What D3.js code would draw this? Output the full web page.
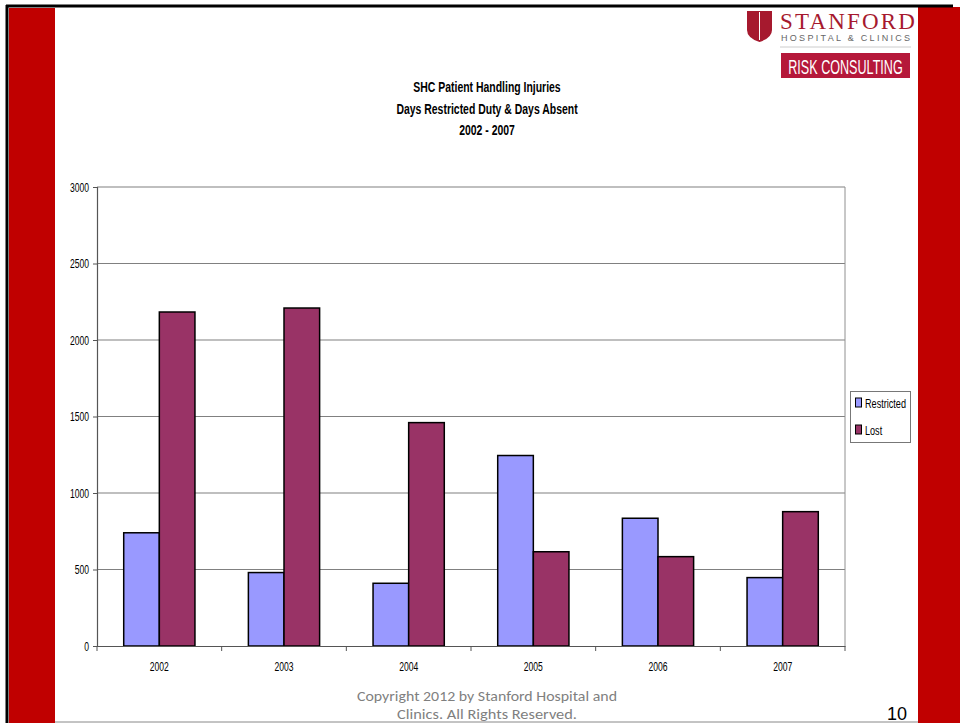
<!DOCTYPE html>
<html><head><meta charset="utf-8">
<script src="https://cdn.jsdelivr.net/npm/d3@7"></script>
<style>
html,body{margin:0;padding:0;background:#fff;}
svg{display:block;}
</style></head>
<body>
<svg id="c" width="960" height="723"></svg>
<script>
const years = ["2002","2003","2004","2005","2006","2007"];
const restricted = [740, 480, 410, 1245, 835, 447];
const lost = [2183, 2209, 1460, 616, 584, 878];
const seriesNames = ["Restricted","Lost"];
const seriesColors = ["#9999FF","#993366"];
const yTicks = [0,500,1000,1500,2000,2500,3000];
const titleLines = ["SHC Patient Handling Injuries","Days Restricted Duty & Days Absent","2002 - 2007"];

const svg = d3.select("#c");
const sans = "'Liberation Sans','Arial',sans-serif";

// condense text horizontally to mimic a narrow font
function condense(sel, factor){
  sel.each(function(){
    const w = this.getComputedTextLength();
    if (w > 0) d3.select(this).attr("textLength", w*factor).attr("lengthAdjust","spacingAndGlyphs");
  });
  return sel;
}

// frame
svg.append("rect").attr("x",9).attr("y",8).attr("width",46).attr("height",715).attr("fill","#C00000");
svg.append("rect").attr("x",918).attr("y",7).attr("width",42).attr("height",716).attr("fill","#C00000");
svg.append("line").attr("x1",6).attr("x2",953).attr("y1",6).attr("y2",6).attr("stroke","#000").attr("stroke-width",3);
svg.append("line").attr("x1",7).attr("x2",7).attr("y1",5).attr("y2",723).attr("stroke","#000").attr("stroke-width",3);
svg.append("line").attr("x1",55).attr("x2",918).attr("y1",722).attr("y2",722).attr("stroke","#888").attr("stroke-width",1);

// logo
const logo = svg.append("g");
logo.append("path").attr("d","M747,11 L772,11 L772,30 Q772,38 759.5,42 Q747,38 747,30 Z").attr("fill","#A6192E");
logo.append("line").attr("x1",759.5).attr("x2",759.5).attr("y1",12).attr("y2",40).attr("stroke","#fff").attr("stroke-width",1);
logo.append("text").attr("x",780).attr("y",29).attr("font-family","'Liberation Serif','DejaVu Serif',serif").attr("font-size",23).attr("letter-spacing",2.2).attr("fill","#A6192E").text("STANFORD");
logo.append("text").attr("x",781).attr("y",41).attr("font-family",sans).attr("font-size",9).attr("letter-spacing",2.3).attr("fill","#666").text("HOSPITAL & CLINICS");
logo.append("line").attr("x1",780).attr("x2",911).attr("y1",47).attr("y2",47).attr("stroke","#ccc");
logo.append("rect").attr("x",781).attr("y",53).attr("width",129).attr("height",25).attr("fill","#B5183A");
logo.append("g").attr("transform","translate(845.5,73.5) scale(0.63,1)")
  .append("text").attr("x",0).attr("y",0).attr("text-anchor","middle").attr("font-family",sans).attr("font-size",20)
  .attr("fill","#fff").text("RISK CONSULTING");

// title
condense(svg.append("g").selectAll("text").data(titleLines).join("text")
  .attr("x",487).attr("y",(d,i)=>92+i*21.5).attr("text-anchor","middle")
  .attr("font-family",sans).attr("font-size",14.5).attr("font-weight","bold").attr("fill","#000").text(d=>d), 0.72);

// chart
const m = {l:97, t:187, r:845, b:646};
const x = d3.scaleBand().domain(years).range([m.l,m.r]);
const bw = x.bandwidth()/3.5;
const y = d3.scaleLinear().domain([0,3000]).range([m.b,m.t]);

// gridlines
svg.append("g").selectAll("line").data(yTicks.filter(d=>d>0)).join("line")
  .attr("x1",m.l).attr("x2",m.r).attr("y1",d=>y(d)).attr("y2",d=>y(d)).attr("stroke","#808080").attr("stroke-width",1.2);
svg.append("line").attr("x1",m.r).attr("x2",m.r).attr("y1",m.t).attr("y2",m.b).attr("stroke","#909090").attr("stroke-width",1);

// bars
const data = years.map((yr,i)=>({yr, vals:[restricted[i], lost[i]]}));
const g = svg.append("g");
data.forEach(d=>{
  d.vals.forEach((v,j)=>{
    const x0 = x(d.yr) + 0.75*bw + j*bw;
    g.append("rect").attr("x",x0).attr("y",y(v)).attr("width",bw).attr("height",y(0)-y(v))
      .attr("fill",seriesColors[j]).attr("stroke","#000").attr("stroke-width",1.5);
  });
});

// axes
const yAxis = d3.axisLeft(y).tickValues(yTicks).tickFormat(d3.format("d")).tickSize(4).tickPadding(4);
const ya = svg.append("g").attr("transform",`translate(${m.l},0)`).call(yAxis);
ya.select(".domain").attr("stroke","#555").attr("stroke-width",1.2);
ya.selectAll(".tick line").attr("stroke","#555");
condense(ya.selectAll("text").attr("font-family",sans).attr("font-size",13).attr("fill","#000"), 0.66);

const xAxis = d3.axisBottom(x).tickSize(0).tickPadding(16);
const xa = svg.append("g").attr("transform",`translate(0,${m.b})`).call(xAxis);
xa.select(".domain").attr("stroke","#555").attr("stroke-width",1.2);
condense(xa.selectAll("text").attr("font-family",sans).attr("font-size",13).attr("fill","#000"), 0.66);
const bounds = years.map(yr=>x(yr)).concat([m.r]);
svg.append("g").selectAll("line").data(bounds).join("line")
  .attr("x1",d=>d).attr("x2",d=>d).attr("y1",m.b).attr("y2",m.b+5).attr("stroke","#555");

// legend
const lg = svg.append("g");
lg.append("rect").attr("x",850.5).attr("y",391.5).attr("width",60).attr("height",51).attr("fill","#fff").attr("stroke","#777");
seriesNames.forEach((s,i)=>{
  const yy = 403 + i*27;
  lg.append("rect").attr("x",855.5).attr("y",yy-5).attr("width",6).attr("height",9).attr("fill",seriesColors[i]).attr("stroke","#000").attr("stroke-width",1);
  condense(lg.append("text").attr("x",865).attr("y",yy+4.5).attr("font-family",sans).attr("font-size",13).attr("fill","#000").text(s), 0.7);
});

// footer
const ff = "'Carlito','Open Sans','Liberation Sans',sans-serif";
svg.append("text").attr("x",487).attr("y",701).attr("text-anchor","middle").attr("font-family",ff).attr("font-size",15).attr("fill","#7f7f7f")
  .attr("textLength",260).attr("lengthAdjust","spacingAndGlyphs").text("Copyright 2012 by Stanford Hospital and");
svg.append("text").attr("x",487).attr("y",719).attr("text-anchor","middle").attr("font-family",ff).attr("font-size",15).attr("fill","#7f7f7f")
  .attr("textLength",180).attr("lengthAdjust","spacingAndGlyphs").text("Clinics.  All Rights Reserved.");
svg.append("text").attr("x",897).attr("y",720).attr("text-anchor","middle").attr("font-family",sans).attr("font-size",18).attr("fill","#000").text("10");
</script>
</body></html>
